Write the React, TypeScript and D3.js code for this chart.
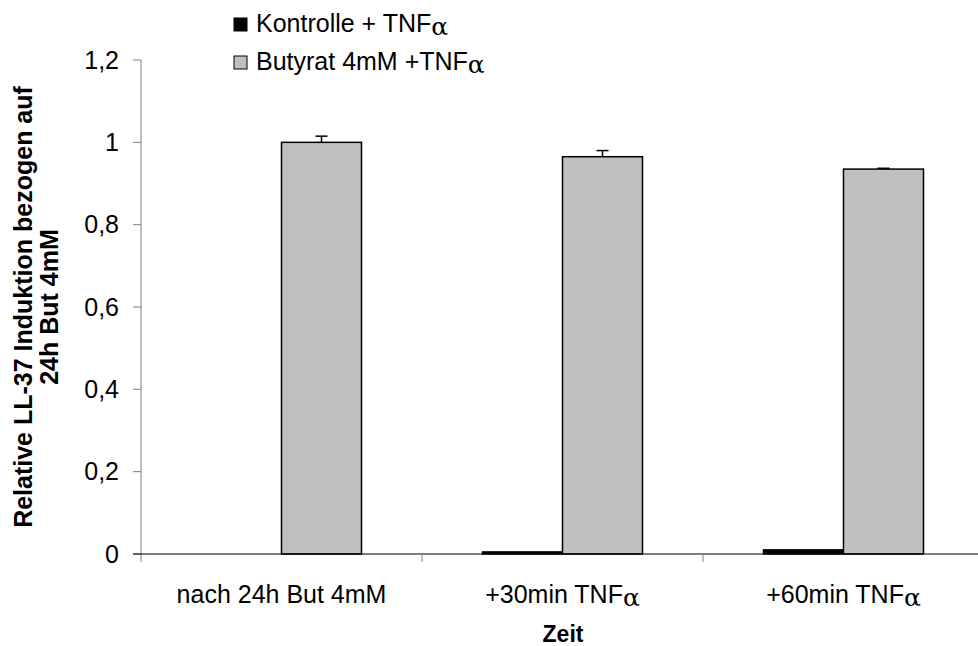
import {useEffect, useRef} from "react";
import * as d3 from "d3";

// categories on the x axis (α drawn as its own tspan)
const categories = ["nach 24h But 4mM", "+30min TNF", "+60min TNF"];
const hasAlpha = [false, true, true];

// series
const kontrolle = [0, 0.005, 0.01];
const butyrat = [1.0, 0.965, 0.935];
const butyratErr = [0.015, 0.015, 0.002];

const yTicks = [0, 0.2, 0.4, 0.6, 0.8, 1, 1.2];

const W = 978;
const H = 646;

const App = () => {
    const svgRef = useRef<SVGSVGElement>(null);

    useEffect(() => {
        const svg = d3.select(svgRef.current);
        svg.selectAll("*").remove();

        const left = 141, right = 984, top = 60, bottom = 554;
        const font = "Liberation Sans, Arial, sans-serif";
        const fs = 25;

        const x = d3.scaleBand<string>().domain(categories).range([left, right]);
        const y = d3.scaleLinear().domain([0, 1.2]).range([bottom, top]);
        const barW = 80;

        const g = svg.append("g");

        // bars
        categories.forEach((c, i) => {
            const cx = (x(c) as number) + x.bandwidth() / 2;
            g.append("rect")
                .attr("x", cx - barW)
                .attr("y", y(kontrolle[i]))
                .attr("width", barW)
                .attr("height", bottom - y(kontrolle[i]))
                .attr("fill", "#000")
                .attr("stroke", "#000")
                .attr("stroke-width", 1.5);
            g.append("rect")
                .attr("x", cx)
                .attr("y", y(butyrat[i]))
                .attr("width", barW)
                .attr("height", bottom - y(butyrat[i]))
                .attr("fill", "#c0c0c0")
                .attr("stroke", "#000")
                .attr("stroke-width", 1.5);
            // error bar
            const ex = cx + barW / 2;
            const eTop = y(butyrat[i] + butyratErr[i]);
            g.append("line")
                .attr("x1", ex).attr("x2", ex)
                .attr("y1", y(butyrat[i])).attr("y2", eTop)
                .attr("stroke", "#000").attr("stroke-width", 1.5);
            g.append("line")
                .attr("x1", ex - 6).attr("x2", ex + 6)
                .attr("y1", eTop).attr("y2", eTop)
                .attr("stroke", "#000").attr("stroke-width", 1.5);
        });

        // y axis
        g.append("line")
            .attr("x1", left).attr("x2", left)
            .attr("y1", top).attr("y2", bottom + 8)
            .attr("stroke", "#808080").attr("stroke-width", 1);
        yTicks.forEach(t => {
            g.append("line")
                .attr("x1", left - 8).attr("x2", left)
                .attr("y1", y(t)).attr("y2", y(t))
                .attr("stroke", "#808080");
            g.append("text")
                .attr("x", left - 22)
                .attr("y", y(t))
                .attr("dy", "0.35em")
                .attr("text-anchor", "end")
                .attr("font-family", font)
                .attr("font-size", fs)
                .text(String(t).replace(".", ","));
        });

        // x axis
        g.append("line")
            .attr("x1", left - 8).attr("x2", right)
            .attr("y1", bottom).attr("y2", bottom)
            .attr("stroke", "#000").attr("stroke-width", 1.2);
        categories.forEach((c, i) => {
            const x0 = x(c) as number;
            if (i > 0) {
                g.append("line")
                    .attr("x1", x0).attr("x2", x0)
                    .attr("y1", bottom).attr("y2", bottom + 8)
                    .attr("stroke", "#808080");
            }
            const t = g.append("text")
                .attr("x", x0 + x.bandwidth() / 2)
                .attr("y", 603)
                .attr("text-anchor", "middle")
                .attr("font-family", font)
                .attr("font-size", fs)
                .text(c);
            if (hasAlpha[i]) {
                t.append("tspan").attr("dy", 3).attr("font-size", fs).attr("font-family", "DejaVu Serif, serif").text("α");
            }
        });

        // axis titles
        g.append("text")
            .attr("x", 563)
            .attr("y", 642)
            .attr("text-anchor", "middle")
            .attr("font-family", font)
            .attr("font-size", 23)
            .attr("font-weight", "bold")
            .text("Zeit");

        const yt = g.append("text")
            .attr("transform", `translate(32,${(top + bottom) / 2}) rotate(-90)`)
            .attr("text-anchor", "middle")
            .attr("font-family", font)
            .attr("font-size", 25)
            .attr("font-weight", "bold");
        yt.append("tspan").attr("x", 0).attr("dy", 0).text("Relative LL-37 Induktion bezogen auf");
        yt.append("tspan").attr("x", 0).attr("dy", 26).text("24h But 4mM");

        // legend
        const legend = [
            {label: "Kontrolle + TNF", color: "#000", y: 23},
            {label: "Butyrat 4mM +TNF", color: "#c0c0c0", y: 61}
        ];
        legend.forEach(l => {
            g.append("rect")
                .attr("x", 234).attr("y", l.y - 5)
                .attr("width", 13).attr("height", 13)
                .attr("fill", l.color)
                .attr("stroke", "#000").attr("stroke-width", 1);
            const t = g.append("text")
                .attr("x", 256)
                .attr("y", l.y)
                .attr("dy", "0.35em")
                .attr("font-family", font)
                .attr("font-size", fs)
                .text(l.label);
            t.append("tspan").attr("dy", 3).attr("font-size", fs).attr("font-family", "DejaVu Serif, serif").text("α");
        });
    }, []);

    return (
        <svg ref={svgRef} width={W} height={H} style={{display: "block", position: "absolute", left: 0, top: 0}} />
    );
};

export default App;
